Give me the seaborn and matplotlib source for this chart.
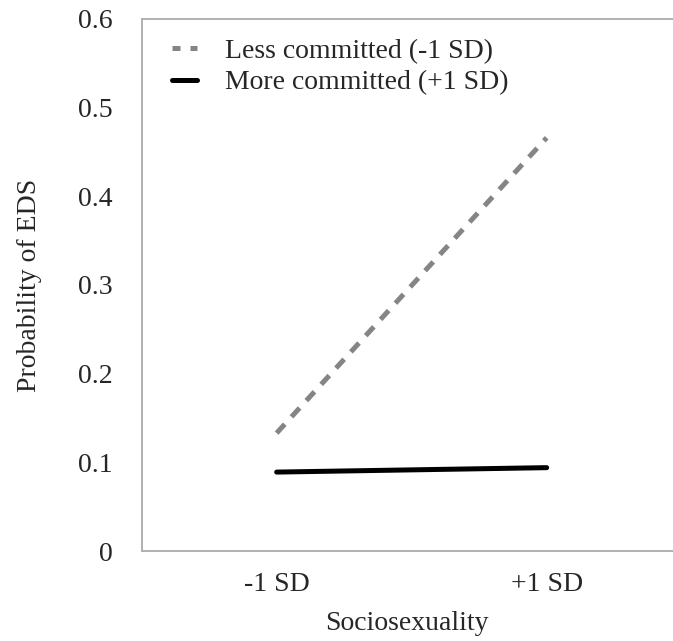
import matplotlib
matplotlib.use("Agg")
import matplotlib.pyplot as plt
import seaborn as sns
import pandas as pd
from matplotlib.lines import Line2D

# data
levels = ["-1 SD", "+1 SD"]
less_committed = [0.133, 0.466]
more_committed = [0.089, 0.094]
series_names = ["Less committed (-1 SD)", "More committed (+1 SD)"]

sns.set_style("white")
plt.rcParams["font.family"] = ["Liberation Serif", "DejaVu Serif"]

df = pd.DataFrame({
    "pos": [0, 1, 0, 1],
    "prob": less_committed + more_committed,
    "group": [series_names[0]] * 2 + [series_names[1]] * 2,
})

fig = plt.figure(figsize=(6.73, 6.41), dpi=100)
ax = fig.add_axes([0.2105, 0.1404, 0.7895, 0.83])

sns.lineplot(
    data=df[df["group"] == series_names[0]],
    x="pos", y="prob", ax=ax,
    color="#858585", linewidth=3.6,
)
sns.lineplot(
    data=df[df["group"] == series_names[1]],
    x="pos", y="prob", ax=ax,
    color="black", linewidth=3.6,
)
ax.lines[0].set_dashes([2.4, 2.0])

ax.set_xlim(-0.5, 1.468)
ax.set_ylim(0, 0.6)
ax.set_yticks([0, 0.1, 0.2, 0.3, 0.4, 0.5, 0.6])
ax.set_yticklabels(["0", "0.1", "0.2", "0.3", "0.4", "0.5", "0.6"])
ax.set_xticks([-0.5, 0.5])
ax.set_xticklabels([])
ax.set_xticks([0, 1], minor=True)
ax.set_xticklabels(levels, minor=True)
ax.tick_params(axis="x", which="minor", length=0, pad=15, labelsize=20)
ax.tick_params(axis="x", which="major", length=5, color="#b0b0b0", width=1.2)
ax.tick_params(axis="y", length=5, color="#b0b0b0", width=1.2, pad=16, labelsize=20)

for side in ["left", "bottom", "top"]:
    ax.spines[side].set_color("#b0b0b0")
    ax.spines[side].set_linewidth(1.4)
ax.spines["right"].set_visible(False)

ax.set_xlabel("Sociosexuality", fontsize=20, labelpad=10)
ax.set_ylabel("Probability of EDS", fontsize=20, labelpad=26)

# legend handles: shorter dashes so two clean dashes show like the original
handles = [
    Line2D([], [], color="#858585", linewidth=3.6, dashes=[1.6, 2.0]),
    Line2D([], [], color="black", linewidth=3.6),
]
leg = ax.legend(handles, series_names, loc="upper left", frameon=False,
                fontsize=20, bbox_to_anchor=(0.015, 1.005), handlelength=0.9,
                handletextpad=1.0, labelspacing=0.22, borderpad=0.3)

fig.savefig("out.png", dpi=100)
